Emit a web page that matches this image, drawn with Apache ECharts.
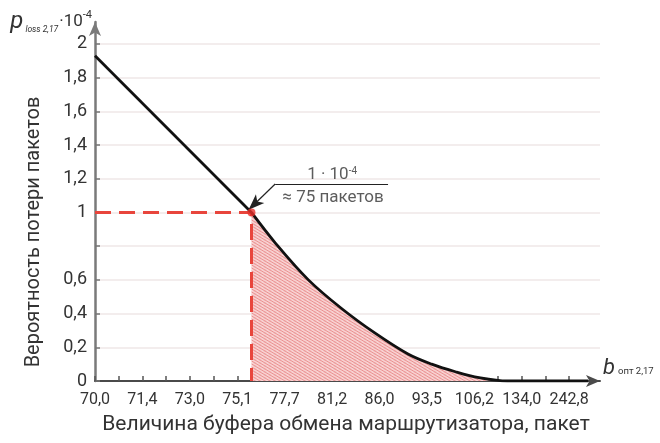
<!DOCTYPE html>
<html>
<head>
<meta charset="utf-8">
<script src="https://cdn.jsdelivr.net/npm/echarts@6/dist/echarts.min.js"></script>
<style>html,body{margin:0;padding:0;background:#fff}#c{width:660px;height:443px}</style>
</head>
<body>
<div id="c"></div>
<script>
// ---- data ----
const xLabels = ['70,0','71,4','73,0','75,1','77,7','81,2','86,0','93,5','106,2','134,0','242,8'];
const xTickPos = [0,0.5,1,1.5,2,2.5,3,3.5,4,4.5,5,5.5,6,6.5,7,7.5,8,8.5,9,9.5,10];
const yTicks = [0,0.2,0.4,0.6,0.8,1,1.2,1.4,1.6,1.8,2];
const yLabelVals = [0,0.2,0.4,0.6,1,1.2,1.4,1.6,1.8,2];
// straight part of the curve (category index, value ·10^-4)
const lineIdx = [0, 3.3];
const lineVal = [1.93, 1.0];
// curved tail
const curveIdx = [3.3, 3.8, 4.5, 5.2, 5.9, 6.6, 7.1, 7.6, 8.1, 8.7, 9.5, 10.4];
const curveVal = [1.0, 0.82, 0.60, 0.43, 0.285, 0.16, 0.10, 0.055, 0.02, 0, 0, 0];
// shaded (loss) region
const fillIdx = [3.3, 3.8, 4.5, 5.2, 5.9, 6.6, 7.1, 7.6, 8.1, 8.7];
const fillVal = [1.0, 0.82, 0.60, 0.43, 0.285, 0.16, 0.10, 0.055, 0.02, 0];
// operating point
const opPoint = [3.3, 1.0];
// annotation anchors
const annText1 = [5.0, 1.225];
const annText2 = [5.02, 1.086];
const annLineStart = [6.18, 1.169];
const annLineKnee = [3.8, 1.169];
const annArrowTip = [3.24, 1.016];

const zip = (a, b) => a.map((v, i) => [v, b[i]]);

// hatch pattern
const pc = document.createElement('canvas');
pc.width = 5; pc.height = 3;
const g = pc.getContext('2d');
g.fillStyle = '#f8d0d0'; g.fillRect(0, 0, 5, 3);
g.strokeStyle = '#e88a8a'; g.lineWidth = 0.9;
g.beginPath();
[[0,0],[5,0],[0,3],[-5,0],[0,-3]].forEach(([ox, oy]) => {
  g.moveTo(ox - 5, oy - 3); g.lineTo(ox + 10, oy + 6);
});
g.stroke();

const FONT = 'Roboto, "Noto Sans", sans-serif';
const chart = echarts.init(document.getElementById('c'), null, {renderer: 'canvas'});
chart.setOption({
  animation: false,
  backgroundColor: '#fff',
  textStyle: {fontFamily: FONT},
  grid: {left: 95, right: 60, top: 22, bottom: 62, containLabel: false},
  xAxis: {
    type: 'value', min: 0, max: 10.65,
    name: '{b|b}{s|опт 2,17}',
    nameLocation: 'end', nameGap: 3,
    nameTextStyle: {
      align: 'left', verticalAlign: 'bottom', padding: [0, 0, 2, 0],
      rich: {
        b: {fontSize: 22, fontStyle: 'italic', color: '#333', fontFamily: FONT, verticalAlign: 'bottom'},
        s: {fontSize: 9.5, color: '#333', fontFamily: FONT, verticalAlign: 'bottom', padding: [0, 0, 2, 3]}
      }
    },
    axisLine: {show: true, lineStyle: {color: '#4a4a4a', width: 2}, symbol: ['none', 'arrow'], symbolSize: [9, 14]},
    axisTick: {show: true, inside: true, length: 5, customValues: xTickPos, lineStyle: {color: '#555', width: 1.5}},
    axisLabel: {
      customValues: xLabels.map((_, i) => i),
      formatter: v => xLabels[Math.round(v)],
      color: '#333', fontSize: 16, margin: 11, fontFamily: FONT
    },
    splitLine: {show: false}
  },
  yAxis: {
    type: 'value', min: 0, max: 2.13,
    name: '{p|p}{s|loss 2,17}{m|·10}{e|-4}',
    nameLocation: 'end', nameGap: 0,
    nameTextStyle: {
      align: 'right', verticalAlign: 'middle', padding: [0, 3, 0, 0],
      rich: {
        p: {fontSize: 24, fontStyle: 'italic', color: '#333', fontFamily: FONT, verticalAlign: 'middle'},
        s: {fontSize: 8.5, fontStyle: 'italic', color: '#333', fontFamily: FONT, verticalAlign: 'bottom', padding: [0, 1, 0, 2]},
        m: {fontSize: 17, color: '#333', fontFamily: FONT, verticalAlign: 'middle'},
        e: {fontSize: 11, color: '#333', fontFamily: FONT, verticalAlign: 'top'}
      }
    },
    axisLine: {show: true, lineStyle: {color: '#7a7a7a', width: 2.5}, symbol: ['none', 'arrow'], symbolSize: [9, 14]},
    axisTick: {show: true, inside: true, length: 5, customValues: yTicks, lineStyle: {color: '#777', width: 1.5}},
    axisLabel: {
      customValues: yLabelVals,
      formatter: v => String(Math.round(v * 10) / 10).replace('.', ','),
      color: '#333', fontSize: 18, margin: 8, fontFamily: FONT
    },
    splitLine: {show: true, lineStyle: {color: '#efe7e7', width: 1.5}}
  },
  graphic: [
    {type: 'text', x: 34, y: 232, rotation: Math.PI / 2,
     style: {text: 'Вероятность потери пакетов', fill: '#333', font: '20px ' + FONT, textAlign: 'center', textVerticalAlign: 'middle'}},
    {type: 'text', x: 346, y: 425,
     style: {text: 'Величина буфера обмена маршрутизатора, пакет', fill: '#333', font: '21px ' + FONT, textAlign: 'center', textVerticalAlign: 'middle'}}
  ],
  series: [
    {
      type: 'line', name: 'fill', data: zip(fillIdx, fillVal), smooth: 0.35,
      showSymbol: false, lineStyle: {width: 0}, z: 1,
      areaStyle: {color: {image: pc, repeat: 'repeat'}, opacity: 1}
    },
    {
      type: 'line', name: 'dashed', data: [[0, opPoint[1]], opPoint, [opPoint[0], 0]],
      showSymbol: false, z: 3,
      lineStyle: {color: '#e8453c', width: 3, type: [16, 8]}
    },
    {
      type: 'line', name: 'straight', data: zip(lineIdx, lineVal), showSymbol: false, z: 4,
      lineStyle: {color: '#111', width: 2.8}
    },
    {
      type: 'line', name: 'curve', data: zip(curveIdx, curveVal), smooth: 0.35,
      showSymbol: false, z: 4,
      lineStyle: {color: '#111', width: 2.8}
    },
    {
      type: 'scatter', name: 'point', data: [opPoint], symbolSize: 8, z: 5,
      itemStyle: {color: '#e8302a'}
    },
    {
      type: 'scatter', name: 'annotation', symbolSize: 0, z: 6, silent: true,
      data: [
        {value: annText1, label: {formatter: '{a|1 · 10}{e|-4}'}},
        {value: annText2, label: {formatter: '{a|≈ 75 пакетов}'}}
      ],
      label: {
        show: true, position: 'inside', color: '#333',
        rich: {
          a: {fontSize: 17, color: '#333', fontFamily: FONT, verticalAlign: 'bottom'},
          e: {fontSize: 10, color: '#333', fontFamily: FONT, verticalAlign: 'top'}
        }
      },
      markLine: {
        silent: true, animation: false,
        label: {show: false},
        lineStyle: {color: '#222', width: 1.2, type: 'solid'},
        data: [
          [{coord: annLineStart, symbol: 'none'}, {coord: annLineKnee, symbol: 'none'}],
          [{coord: annLineKnee, symbol: 'none'}, {coord: annArrowTip, symbol: 'arrow', symbolSize: [9, 16]}]
        ]
      }
    }
  ]
});
</script>
</body>
</html>
